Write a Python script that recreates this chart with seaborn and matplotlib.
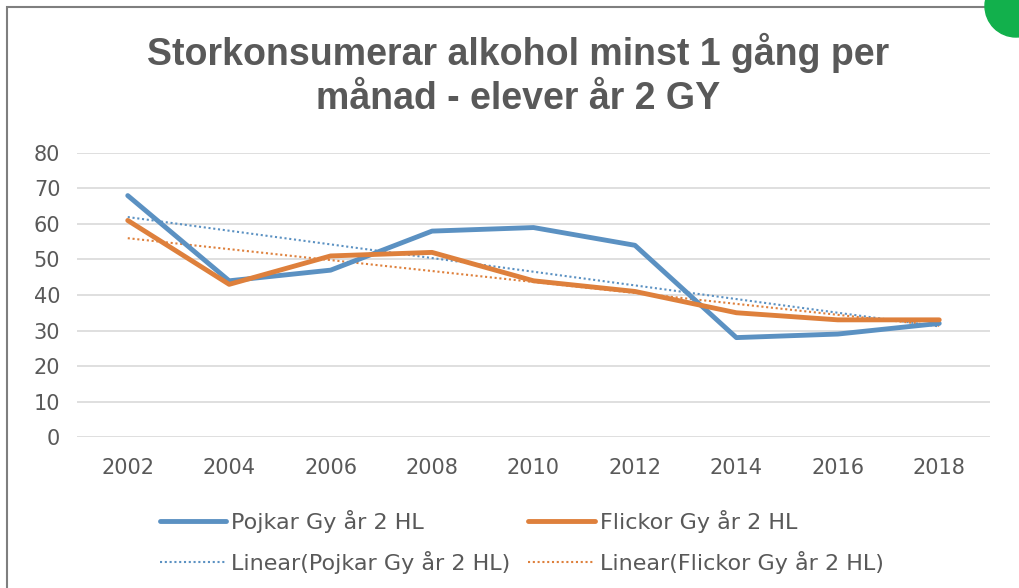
import matplotlib
matplotlib.use("Agg")
import matplotlib.pyplot as plt
import seaborn as sns
import pandas as pd
from matplotlib.patches import Rectangle, Ellipse

# data
years = [2002, 2004, 2006, 2008, 2010, 2012, 2014, 2016, 2018]
pojkar = [68, 44, 47, 58, 59, 54, 28, 29, 32]
flickor = [61, 43, 51, 52, 44, 41, 35, 33, 33]
series_names = ["Pojkar Gy år 2 HL", "Flickor Gy år 2 HL"]
title = "Storkonsumerar alkohol minst 1 gång per\nmånad - elever år 2 GY"

blue = "#5B91C2"
orange = "#DE803C"
grey = "#595959"

df = pd.DataFrame({"year": years, series_names[0]: pojkar, series_names[1]: flickor})

sns.set_style("white")
plt.rcParams["font.family"] = ["DejaVu Sans"]

fig = plt.figure(figsize=(10.19, 5.88), dpi=100)
ax = fig.add_axes([0.0756, 0.2568, 0.8959, 0.4830])

# trend lines first so they sit under the data lines
sns.regplot(data=df, x="year", y=series_names[0], scatter=False, ci=None, ax=ax,
            color=blue, line_kws=dict(ls=(0, (1, 1.3)), lw=1.5),
            label="Linear(" + series_names[0] + ")")
sns.regplot(data=df, x="year", y=series_names[1], scatter=False, ci=None, ax=ax,
            color=orange, line_kws=dict(ls=(0, (1, 1.3)), lw=1.5),
            label="Linear(" + series_names[1] + ")")
sns.lineplot(data=df, x="year", y=series_names[0], ax=ax, color=blue, lw=3.5,
             label=series_names[0])
sns.lineplot(data=df, x="year", y=series_names[1], ax=ax, color=orange, lw=3.5,
             label=series_names[1])

ax.set_xlim(2001, 2019)
ax.set_ylim(0, 80)
ax.set_xticks(years)
ax.set_yticks(range(0, 81, 10))
ax.yaxis.grid(True, color="#D9D9D9", lw=1.2)
ax.xaxis.grid(False)
for s in ax.spines.values():
    s.set_visible(False)
ax.tick_params(axis="both", length=0, labelsize=15, labelcolor=grey)
ax.tick_params(axis="x", pad=15)
ax.tick_params(axis="y", pad=12)
ax.set_xlabel("")
ax.set_ylabel("")
ax.get_legend().remove()

fig.text(0.508, 0.873, title, ha="center", va="center", fontsize=27,
         fontweight="bold", color=grey, linespacing=1.27,
         family=["Liberation Sans", "DejaVu Sans"])

handles, labels = ax.get_legend_handles_labels()
order = [2, 0, 3, 1]
fig.legend([handles[i] for i in order], [labels[i] for i in order],
           loc="center", bbox_to_anchor=(0.512, 0.078), ncol=2, frameon=False,
           fontsize=16, labelcolor=grey, handlelength=3.0, handletextpad=0.22,
           columnspacing=0.8, labelspacing=0.8)

# chart frame and corner badge
fig.patches.append(Rectangle((7 / 1019, -0.1), 1.2, 1 - 7 / 588 + 0.1,
                             transform=fig.transFigure, fill=False,
                             ec="#7F7F7F", lw=1.5))
fig.patches.append(Ellipse((1016 / 1019, 1 - 6 / 588), 62 / 1019, 62 / 588,
                           transform=fig.transFigure, color="#12B04C"))

fig.savefig("out.png", dpi=100, facecolor="white")
